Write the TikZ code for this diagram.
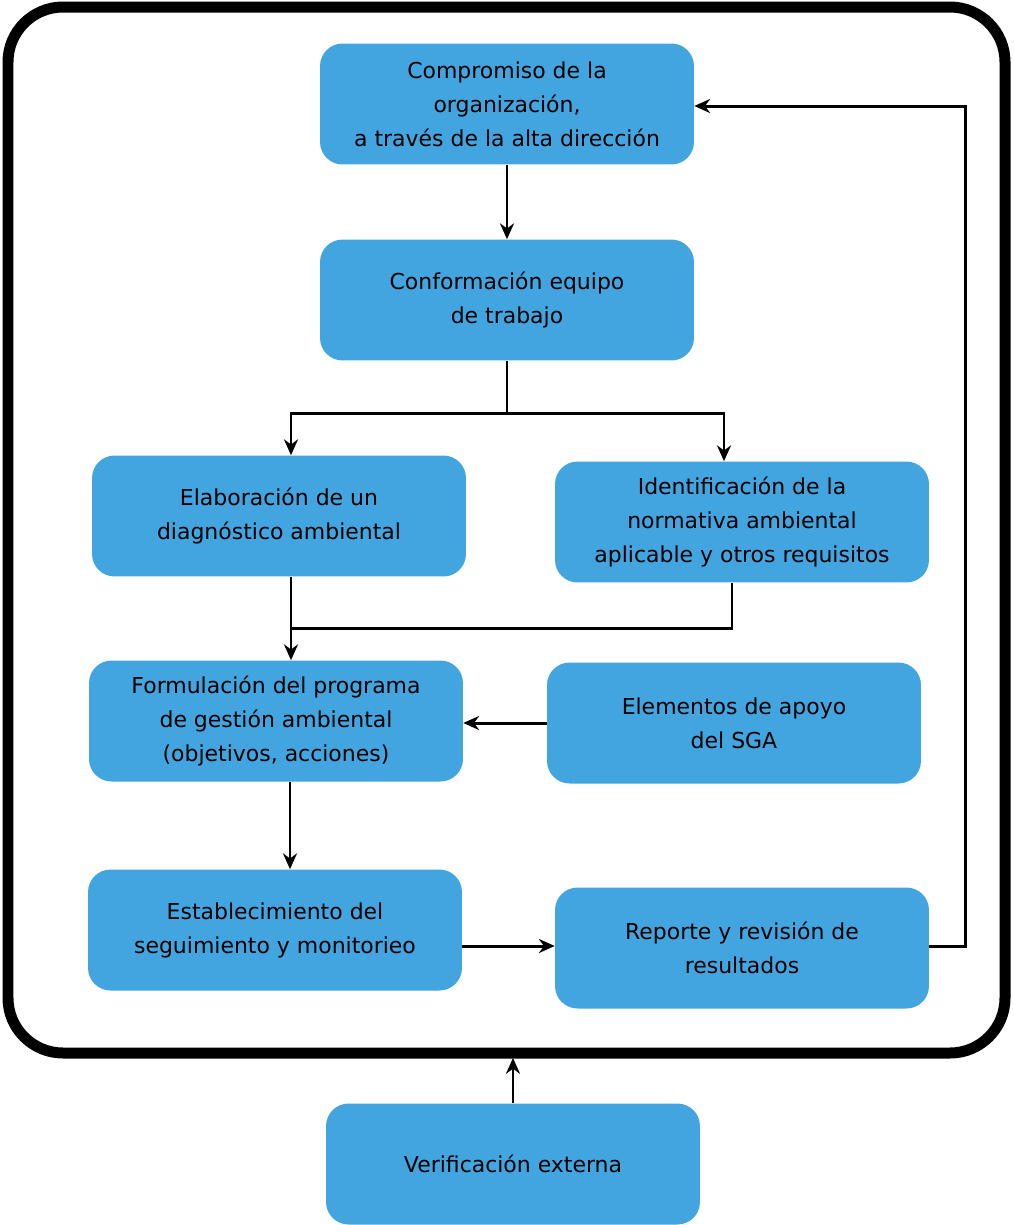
\documentclass[tikz,border=0pt]{standalone}
\usepackage{fontspec}
\setmainfont{DejaVu Sans}
\usetikzlibrary{arrows.meta}
\definecolor{boxblue}{HTML}{42A5E0}
\tikzset{
  stepbox/.style={fill=boxblue,rounded corners=0.45cm,minimum width=7.48cm,
    minimum height=2.42cm,align=center,font=\fontsize{12.5}{19.3}\selectfont},
  link/.style={line width=1.7pt,-{Stealth[length=9pt,width=8pt]}},
  plain/.style={line width=1.7pt}
}
\begin{document}
\begin{tikzpicture}[x=0.02cm,y=-0.02cm]
  \useasboundingbox (0,0) rectangle (1014,1225);
  \draw[line width=0.22cm,rounded corners=1.1cm] (8,7) rectangle (1005,1053);

  \node[stepbox] (comp) at (507,104) {Compromiso de la\\organización,\\a través de la alta dirección};
  \node[stepbox] (equipo) at (507,300) {Conformación equipo\\de trabajo};
  \node[stepbox] (diag) at (279,516) {Elaboración de un\\diagnóstico ambiental};
  \node[stepbox] (norma) at (742,522) {Identificación de la\\normativa ambiental\\aplicable y otros requisitos};
  \node[stepbox] (prog) at (276,721) {Formulación del programa\\de gestión ambiental\\(objetivos, acciones)};
  \node[stepbox] (apoyo) at (734,723) {Elementos de apoyo\\del SGA};
  \node[stepbox] (segui) at (275,930) {Establecimiento del\\seguimiento y monitorieo};
  \node[stepbox] (reporte) at (742,948) {Reporte y revisión de\\resultados};
  \node[stepbox] (verif) at (513,1164) {Verificación externa};

  \coordinate (split) at (507,413);
  \coordinate (merge) at (291,628);
  \coordinate (frame) at (513,1058);

  \draw[link] (comp) -- (equipo);
  \draw[plain] (equipo) -- (split);
  \draw[link] (split) -| (diag.north -| 291,0);
  \draw[link] (split) -| (norma.north -| 724,0);
  \draw[link] (diag.south -| 291,0) -- (prog.north -| 291,0);
  \draw[plain] (norma.south -| 732,0) |- (merge);
  \draw[link] (apoyo.west) -- (prog.east |- apoyo.west);
  \draw[link] (prog.south -| 290,0) -- (segui.north -| 290,0);
  \draw[link] (segui.east |- 0,946) -- (reporte.west |- 0,946);
  \draw[link] (reporte.east |- 0,946) -- (965,946) |- (comp.east |- 0,106);
  \draw[link] (verif) -- (frame);
\end{tikzpicture}
\end{document}
